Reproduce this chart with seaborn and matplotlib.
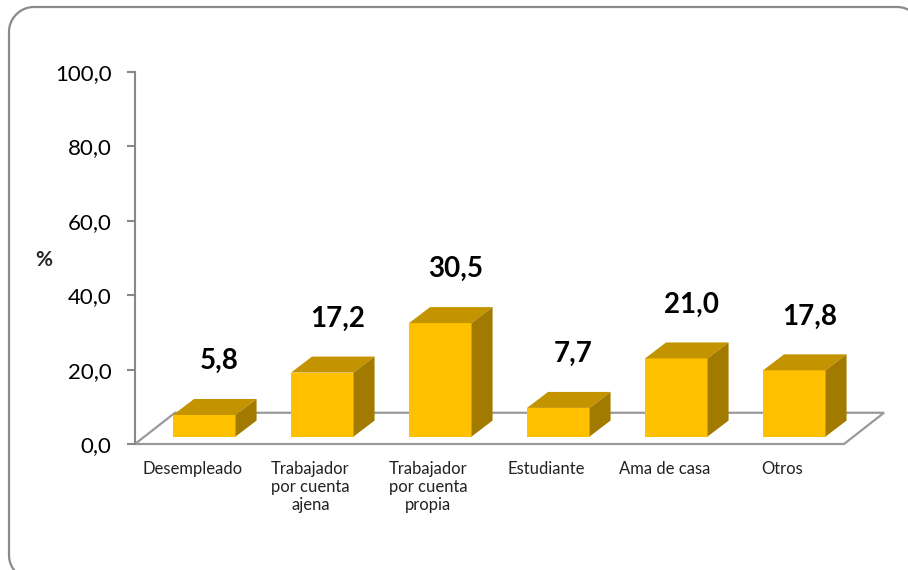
import numpy as np
import pandas as pd
import matplotlib
matplotlib.use("Agg")
import matplotlib.pyplot as plt
import seaborn as sns
from matplotlib.patches import Polygon

# ---- data ----
categorias = ["Desempleado", "Trabajador\npor cuenta\najena", "Trabajador\npor cuenta\npropia",
              "Estudiante", "Ama de casa", "Otros"]
porcentajes = [5.8, 17.2, 30.5, 7.7, 21.0, 17.8]
etiquetas = ["5,8", "17,2", "30,5", "7,7", "21,0", "17,8"]
yticks = [0, 20, 40, 60, 80, 100]
ytick_labels = ["0,0", "20,0", "40,0", "60,0", "80,0", "100,0"]

sns.set_theme(style="white")
plt.rcParams['font.family'] = ['Lato', 'DejaVu Sans']

W, H = 908, 570
fig = plt.figure(figsize=(W / 100, H / 100), dpi=100)
fig.patch.set_facecolor("white")

# background overlay axes in pixel units, for the rounded chart frame
bg = fig.add_axes([0, 0, 1, 1], zorder=-1)
bg.set_xlim(0, W)
bg.set_ylim(H, 0)
bg.axis("off")
fx0, fy0, fx1, fy1, r = 9, 7, 922, 580, 25
t = np.linspace(0, np.pi / 2, 30)
pts = []
pts += list(zip(fx0 + r - r * np.cos(t), fy0 + r - r * np.sin(t)))
pts += list(zip(fx1 - r + r * np.sin(t), fy0 + r - r * np.cos(t)))
pts += list(zip(fx1 - r + r * np.cos(t), fy1 - r + r * np.sin(t)))
pts += list(zip(fx0 + r - r * np.sin(t), fy1 - r + r * np.cos(t)))
pts.append(pts[0])
px, py = zip(*pts)
bg.plot(px, py, color="#8a8a8a", linewidth=1.6, solid_capstyle="round", clip_on=True)

ax_left, ax_right, ax_top, ax_bot = 135, 886, 72, 444
ax = fig.add_axes([ax_left / W, 1 - ax_bot / H, (ax_right - ax_left) / W, (ax_bot - ax_top) / H])
ax.patch.set_alpha(0)

df = pd.DataFrame({"cat": categorias, "pct": porcentajes})
sns.barplot(data=df, x="cat", y="pct", width=0.53, color="#FFC000", saturation=1,
            ax=ax, zorder=3, linewidth=0)

# axis geometry (category units / value units)
pxcat = 118.0
xlim0 = -(192.5 - 135) / pxcat
xlim1 = (886 - 192.5) / pxcat
ax.set_xlim(xlim0, xlim1)
ax.set_ylim(0, 100)

# 3D floor
floor_depth_x = 40 / pxcat
floor_depth_y = 8.4
n = len(categorias)
front_right = (844 - 192.5) / pxcat
floor = Polygon([(xlim0, 0), (front_right, 0), (front_right + floor_depth_x, floor_depth_y),
                 (xlim0 + floor_depth_x, floor_depth_y)], closed=True, facecolor="white",
                edgecolor="#9a9a9a", linewidth=1.6, zorder=1, clip_on=False)
ax.add_patch(floor)

# 3D bars
lift_x, lift_y = 0.10, 2.0
dx, dy = 0.178, 4.3
top_col, side_col = "#C49400", "#A27A00"
for p in [pp for pp in ax.patches if pp is not floor]:
    x0 = p.get_x() + lift_x
    y0 = p.get_y() + lift_y
    w, h = p.get_width(), p.get_height()
    p.set_x(x0)
    p.set_y(y0)
    ax.add_patch(Polygon([(x0, y0 + h), (x0 + w, y0 + h), (x0 + w + dx, y0 + h + dy),
                          (x0 + dx, y0 + h + dy)], closed=True, facecolor=top_col,
                         edgecolor="none", zorder=3))
    ax.add_patch(Polygon([(x0 + w, y0), (x0 + w + dx, y0 + dy), (x0 + w + dx, y0 + h + dy),
                          (x0 + w, y0 + h)], closed=True, facecolor=side_col,
                         edgecolor="none", zorder=3))

# data labels
for i, (v, lab) in enumerate(zip(porcentajes, etiquetas)):
    ax.text(i + lift_x + 0.13, v + 16.5, lab, ha="center", va="center",
            fontsize=20, fontweight="bold", color="black", zorder=5)

# axes styling
for s in ["top", "right", "bottom"]:
    ax.spines[s].set_visible(False)
ax.spines["left"].set_color("#888888")
ax.spines["left"].set_linewidth(1.5)
ax.set_yticks(yticks)
ax.set_yticklabels(ytick_labels)
ax.tick_params(axis="y", length=6, width=1.5, color="#888888", direction="out",
               pad=11, labelsize=16, labelcolor="black", left=True)
ax.set_xticks(range(n))
ax.set_xticklabels(categorias, linespacing=1.15)
ax.tick_params(axis="x", length=0, pad=12, labelsize=12, labelcolor="#222222")
ax.set_xlabel("")
ax.set_ylabel("")

fig.text(44 / W, 1 - 260 / H, "%", fontsize=15, fontweight="bold", ha="center", va="center")

fig.savefig("out.png", dpi=100)
